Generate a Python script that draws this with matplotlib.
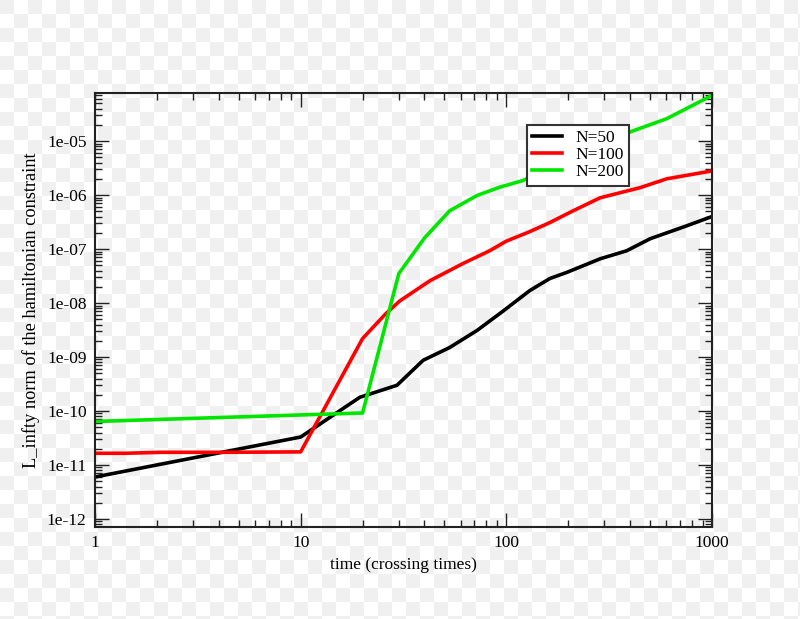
import numpy as np
import matplotlib
matplotlib.use("Agg")
import matplotlib.pyplot as plt
from matplotlib.ticker import LogLocator, FixedLocator, NullFormatter

# ---- data ----
t50 = [1, 10, 19.4, 29.4, 39.4, 53, 72, 96, 130, 163, 197, 286, 385, 500, 755, 1000]
v50 = [6e-12, 3.3e-11, 1.8e-10, 3.0e-10, 8.7e-10, 1.5e-9, 3.1e-9, 7.0e-9, 1.7e-8,
       2.85e-8, 3.7e-8, 6.6e-8, 9.3e-8, 1.55e-7, 2.7e-7, 4.0e-7]

t100 = [1, 1.4, 2.1, 4.2, 10, 20, 26, 30.4, 42.6, 61.6, 83, 100, 130, 163, 211, 286, 447, 603, 1000]
v100 = [1.65e-11, 1.65e-11, 1.72e-11, 1.72e-11, 1.75e-11, 2.2e-9, 6.4e-9, 1.1e-8, 2.6e-8, 5.4e-8,
        9.3e-8, 1.4e-7, 2.1e-7, 3.1e-7, 5.1e-7, 8.9e-7, 1.37e-6, 2.0e-6, 2.8e-6]

t200 = [1, 20, 30, 40, 53, 72, 93, 120, 377, 603, 1000]
v200 = [6.4e-11, 9.2e-11, 3.5e-8, 1.6e-7, 5.1e-7, 9.8e-7, 1.4e-6, 1.85e-6, 1.36e-5, 2.6e-5, 7.0e-5]

series_labels = ["N=50", "N=100", "N=200"]
series_colors = ["black", "#ff0000", "#00e600"]
xtick_vals = [1, 10, 100, 1000]
xtick_labels = ["1", "10", "100", "1000"]
ytick_vals = [1e-12, 1e-11, 1e-10, 1e-09, 1e-08, 1e-07, 1e-06, 1e-05]
ytick_labels = ["1e-12", "1e-11", "1e-10", "1e-09", "1e-08", "1e-07", "1e-06", "1e-05"]

plt.rcParams['font.family'] = ['Liberation Serif', 'DejaVu Serif']

W, H = 800, 619
fig = plt.figure(figsize=(W / 100, H / 100), dpi=100)

# checkerboard backdrop (transparency pattern of the reference image)
sq = 14
ny, nx = int(np.ceil(H / sq)), int(np.ceil(W / sq))
iy, ix = np.indices((ny, nx))
checker = np.where((iy + ix) % 2 == 0, 0.94, 1.0)
bg = fig.add_axes([0, 0, 1, 1], zorder=-1)
bg.imshow(checker, cmap='gray', vmin=0, vmax=1, extent=(0, nx * sq, ny * sq, 0),
          interpolation='nearest', aspect='auto')
bg.set_xlim(0, W)
bg.set_ylim(H, 0)
bg.axis('off')

left, right, top, bottom = 95, 712, 93, 527
ax = fig.add_axes([left / W, 1 - bottom / H, (right - left) / W, (bottom - top) / H])
ax.patch.set_alpha(0)

for t, v, lab, col in zip([t50, t100, t200], [v50, v100, v200], series_labels, series_colors):
    ax.plot(t, v, color=col, lw=2.6, label=lab)

ax.set_xscale('log')
ax.set_yscale('log')
ax.set_xlim(1, 1000)
ax.set_ylim(10 ** -12.148, 10 ** -4.11)

ax.xaxis.set_major_locator(FixedLocator(xtick_vals))
ax.set_xticklabels(xtick_labels)
ax.yaxis.set_major_locator(FixedLocator(ytick_vals))
ax.set_yticklabels(ytick_labels)
ax.xaxis.set_minor_locator(LogLocator(base=10, subs=np.arange(2, 10)))
ax.yaxis.set_minor_locator(LogLocator(base=10, subs=np.arange(2, 10), numticks=20))
ax.xaxis.set_minor_formatter(NullFormatter())
ax.yaxis.set_minor_formatter(NullFormatter())

ax.tick_params(which='both', direction='in', top=True, right=True, width=1.0, color='#222222')
ax.tick_params(which='major', length=10, labelsize=12.5, pad=6)
ax.tick_params(which='minor', length=5)
for s in ax.spines.values():
    s.set_linewidth(1.5)
    s.set_color('#222222')

ax.set_xlabel("time (crossing times)", fontsize=12.5, labelpad=4)
ax.set_ylabel("L_infty norm of the hamiltonian constraint", fontsize=13.2, labelpad=5)

leg = ax.legend(loc='upper left', bbox_to_anchor=((527 - left) / (right - left), 1 - (125 - top) / (bottom - top)),
                fontsize=12.5, frameon=True, fancybox=False, edgecolor='#333333',
                handlelength=1.7, handletextpad=0.8, borderpad=0.3, labelspacing=0.05,
                borderaxespad=0)
leg.get_frame().set_linewidth(1.5)
leg.get_frame().set_facecolor('white')
leg.get_frame().set_alpha(1)

fig.savefig("out.png", dpi=100)
